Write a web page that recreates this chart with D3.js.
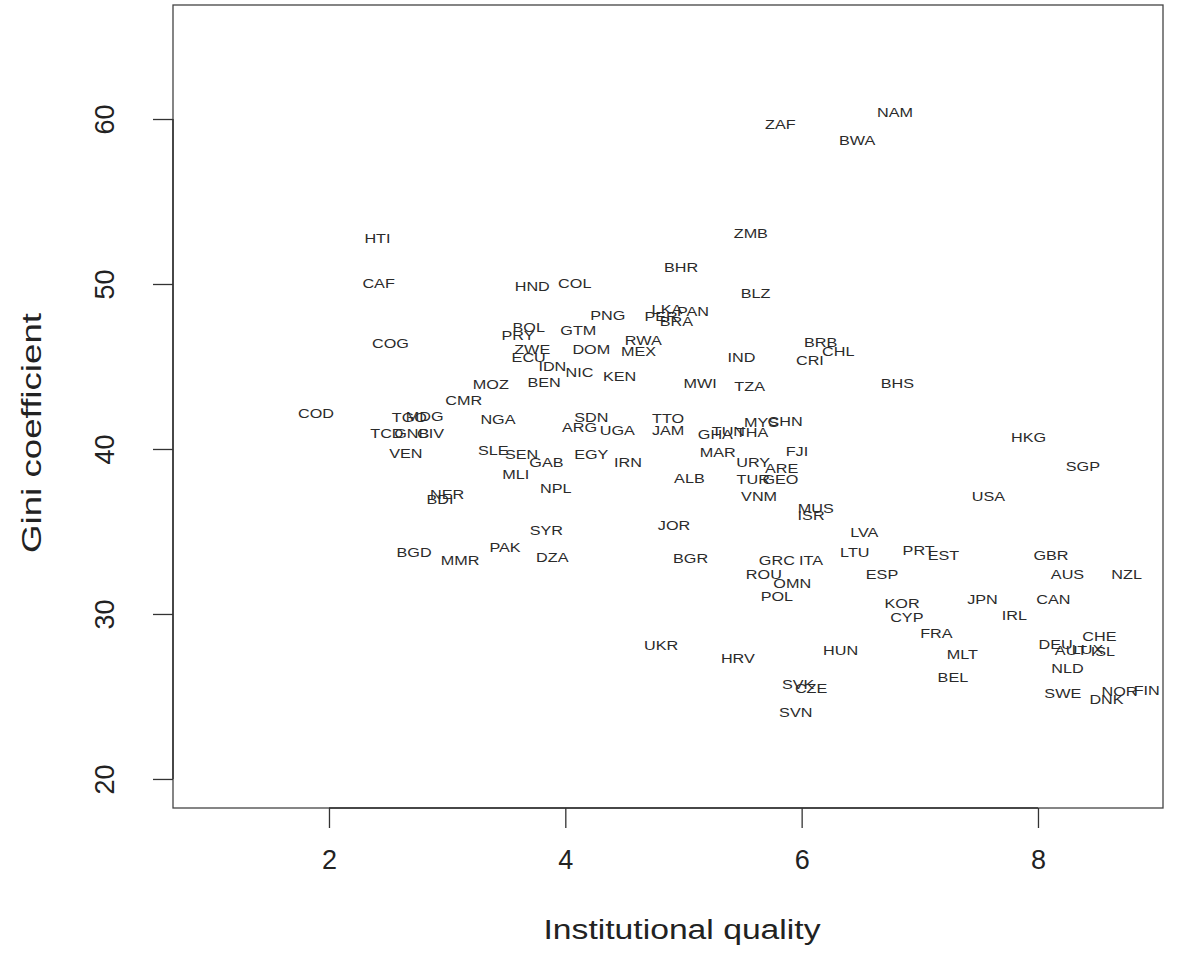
<!DOCTYPE html>
<html>
<head>
<meta charset="utf-8">
<script src="https://cdn.jsdelivr.net/npm/d3@7"></script>
<style>
  body { margin: 0; background: #fff; }
  text { font-family: "Liberation Sans", Arial, sans-serif; }
</style>
</head>
<body>
<div id="chart"></div>
<script>
// country labels, institutional quality (x) and gini (y)
const codes = ['NAM','ZAF','BWA','ZMB','HTI','BHR','CAF','HND','COL','BLZ','PNG','LKA','PER','PAN','BRA',
  'BOL','PRY','GTM','COG','BRB','CHL','ZWE','RWA','DOM','MEX','ECU','IND','CRI','IDN','NIC','KEN','BEN',
  'MOZ','MWI','TZA','BHS','CMR','COD','NGA','TGO','MDG','TCD','GNB','CIV','SDN','ARG','UGA','TTO','JAM',
  'GHA','TUN','THA','MYS','CHN','VEN','SLE','SEN','GAB','EGY','IRN','MAR','FJI','URY','ARE','TUR','GEO',
  'ALB','MLI','NPL','VNM','NER','BDI','HKG','SGP','USA','MUS','ISR','JOR','SYR','LVA','BGD','MMR','PAK',
  'DZA','LTU','PRT','EST','GBR','BGR','GRC','ITA','ROU','ESP','AUS','NZL','OMN','POL','JPN','CAN','KOR',
  'CYP','IRL','FRA','UKR','DEU','CHE','AUT','LUX','ISL','HUN','MLT','HRV','NLD','BEL','SVK','CZE','SWE',
  'DNK','NOR','FIN','SVN']
const quality = [6.79,5.82,6.47,5.57,2.41,4.98,2.42,3.72,4.08,5.61,4.36,4.86,4.81,5.08,4.94,
  3.69,3.60,4.11,2.52,6.16,6.31,3.72,4.66,4.22,4.62,3.69,5.49,6.07,3.89,4.12,4.46,3.82,
  3.37,5.14,5.56,6.81,3.14,1.89,3.43,2.68,2.81,2.49,2.70,2.86,4.22,4.12,4.44,4.87,4.87,
  5.27,5.38,5.58,5.66,5.86,2.65,3.39,3.63,3.84,4.22,4.53,5.29,5.96,5.59,5.83,5.59,5.82,
  5.05,3.58,3.92,5.64,3.00,2.94,7.92,8.38,7.58,6.12,6.08,4.92,3.84,6.53,2.72,3.11,3.49,
  3.89,6.45,6.99,7.20,8.11,5.06,5.79,6.08,5.68,6.68,8.25,8.75,5.92,5.79,7.53,8.13,6.85,
  6.89,7.80,7.14,4.81,8.15,8.52,8.28,8.42,8.55,6.33,7.36,5.46,8.25,7.28,5.97,6.08,8.21,
  8.58,8.69,8.92,5.95]
const gini = [60.42,59.64,58.67,53.09,52.73,51.03,50.06,49.88,50.06,49.45,48.12,48.48,48.06,48.36,47.70,
  47.39,46.85,47.21,46.42,46.48,45.94,46.06,46.55,46.06,45.94,45.52,45.52,45.39,45.03,44.61,44.42,44.06,
  43.88,44.00,43.76,44.00,42.91,42.18,41.76,41.88,42.00,40.91,40.91,40.91,41.88,41.33,41.15,41.82,41.15,
  40.85,41.09,41.03,41.58,41.64,39.70,39.94,39.64,39.21,39.64,39.21,39.76,39.82,39.21,38.79,38.18,38.18,
  38.24,38.48,37.58,37.15,37.27,36.97,40.67,38.97,37.15,36.42,35.94,35.39,35.09,34.97,33.70,33.27,34.06,
  33.45,33.70,33.82,33.52,33.52,33.36,33.27,33.27,32.42,32.42,32.42,32.42,31.82,31.09,30.85,30.85,30.61,
  29.76,29.88,28.79,28.12,28.18,28.61,27.79,27.85,27.73,27.79,27.55,27.30,26.70,26.15,25.73,25.48,25.18,
  24.82,25.30,25.36,24.06]

const xTicks = [2, 4, 6, 8]
const yTicks = [20, 30, 40, 50, 60]

const width = 1180
const height = 955
const box = { left: 173, right: 1163, top: 5, bottom: 808 }
const stretch = 1.2

const svg = d3.select('#chart')
  .append('svg')
  .attr('width', width)
  .attr('height', height)

const x = d3.scaleLinear().domain([0.68, 9.058]).range([box.left, box.right])
const y = d3.scaleLinear().domain([18.24, 66.91]).range([box.bottom, box.top])

// labels in place of points, like text(x, y, labels) in R
const data = codes.map((c, i) => ({ code: c, q: quality[i], g: gini[i] }))

svg.append('g')
  .selectAll('text')
  .data(data)
  .enter().append('text')
  .attr('transform', d => `translate(${x(d.q)},${y(d.g)}) scale(${stretch},1)`)
  .attr('text-anchor', 'middle')
  .attr('dominant-baseline', 'central')
  .attr('font-size', 13.5)
  .attr('fill', '#2a2a2a')
  .text(d => d.code)

// box
svg.append('rect')
  .attr('x', box.left)
  .attr('y', box.top)
  .attr('width', box.right - box.left)
  .attr('height', box.bottom - box.top)
  .attr('fill', 'none')
  .attr('stroke', '#444')
  .attr('stroke-width', 1.3)

// x axis
const xAxis = svg.append('g')
  .attr('transform', `translate(0,${box.bottom})`)
  .call(d3.axisBottom(x).tickValues(xTicks).tickSize(20).tickSizeOuter(0).tickPadding(22))
xAxis.select('.domain').remove()
xAxis.append('line')
  .attr('x1', x(xTicks[0])).attr('x2', x(xTicks[xTicks.length - 1]))
  .attr('stroke', '#333').attr('stroke-width', 1.5)
xAxis.selectAll('.tick line').attr('stroke', '#333').attr('stroke-width', 1.3)
xAxis.selectAll('.tick text')
  .attr('font-size', 27)
  .attr('fill', '#222')
  .attr('font-family', '"Liberation Sans", Arial, sans-serif')

// y axis
const yAxis = svg.append('g')
  .attr('transform', `translate(${box.left},0)`)
  .call(d3.axisLeft(y).tickValues(yTicks).tickSize(20).tickSizeOuter(0))
yAxis.select('.domain').remove()
yAxis.append('line')
  .attr('y1', y(yTicks[0])).attr('y2', y(yTicks[yTicks.length - 1]))
  .attr('stroke', '#333').attr('stroke-width', 1.5)
yAxis.selectAll('.tick line').attr('stroke', '#333').attr('stroke-width', 1.3)
yAxis.selectAll('.tick text')
  .attr('x', null).attr('dy', null)
  .attr('transform', 'translate(-68,0) rotate(-90)')
  .attr('text-anchor', 'middle')
  .attr('dominant-baseline', 'central')
  .attr('font-size', 27)
  .attr('fill', '#222')
  .attr('font-family', '"Liberation Sans", Arial, sans-serif')

// axis titles
svg.append('text')
  .attr('x', 682).attr('y', 930)
  .attr('text-anchor', 'middle')
  .attr('dominant-baseline', 'central')
  .attr('font-size', 27)
  .attr('textLength', 277)
  .attr('lengthAdjust', 'spacingAndGlyphs')
  .attr('fill', '#222')
  .text('Institutional quality')

svg.append('text')
  .attr('transform', 'translate(32,433) rotate(-90)')
  .attr('text-anchor', 'middle')
  .attr('dominant-baseline', 'central')
  .attr('font-size', 27)
  .attr('textLength', 240)
  .attr('lengthAdjust', 'spacingAndGlyphs')
  .attr('fill', '#222')
  .text('Gini coefficient')
</script>
</body>
</html>
